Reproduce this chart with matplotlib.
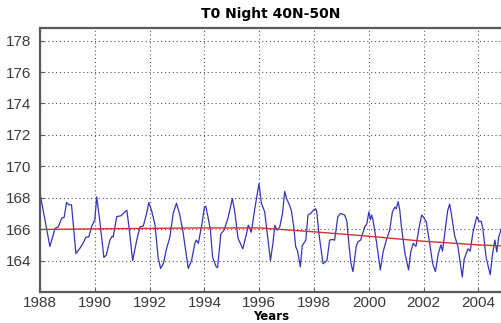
import matplotlib
matplotlib.use("Agg")
import matplotlib.pyplot as plt

# monthly-ish readings of the blue curve (year, value)
years = [1988.0, 1988.36, 1988.55, 1988.67, 1988.79, 1988.88, 1988.97, 1989.05, 1989.15, 1989.31,
         1989.45, 1989.57, 1989.68, 1989.78, 1989.88, 1990.0, 1990.07, 1990.19, 1990.33, 1990.42,
         1990.55, 1990.63, 1990.67, 1990.8, 1990.95, 1991.1, 1991.17, 1991.26, 1991.38, 1991.53,
         1991.65, 1991.77, 1991.89, 1991.97, 1992.07, 1992.2, 1992.31, 1992.4, 1992.5, 1992.62,
         1992.74, 1992.86, 1992.98, 1993.09, 1993.21, 1993.41, 1993.53, 1993.65, 1993.7, 1993.78,
         1993.9, 1994.0, 1994.05, 1994.14, 1994.22, 1994.3, 1994.43, 1994.48, 1994.6, 1994.72,
         1994.86, 1995.02, 1995.1, 1995.23, 1995.4, 1995.52, 1995.6, 1995.71, 1995.83, 1995.99,
         1996.08, 1996.2, 1996.28, 1996.41, 1996.5, 1996.57, 1996.65, 1996.75, 1996.85, 1996.93,
         1997.0, 1997.11, 1997.17, 1997.26, 1997.33, 1997.4, 1997.5, 1997.57, 1997.7, 1997.78,
         1997.88, 1997.97, 1998.06, 1998.1, 1998.18, 1998.33, 1998.47, 1998.57, 1998.66, 1998.75,
         1998.87, 1998.97, 1999.12, 1999.2, 1999.28, 1999.35, 1999.42, 1999.54, 1999.6, 1999.7,
         1999.85, 1999.93, 2000.0, 2000.06, 2000.1, 2000.15, 2000.27, 2000.42, 2000.52, 2000.64,
         2000.76, 2000.86, 2000.95, 2001.0, 2001.07, 2001.13, 2001.19, 2001.32, 2001.45, 2001.53,
         2001.62, 2001.72, 2001.85, 2001.93, 2002.02, 2002.1, 2002.22, 2002.33, 2002.43, 2002.53,
         2002.63, 2002.69, 2002.8, 2002.88, 2002.95, 2003.01, 2003.13, 2003.25, 2003.41, 2003.48,
         2003.62, 2003.7, 2003.8, 2003.94, 2004.02, 2004.1, 2004.16, 2004.28, 2004.43, 2004.51,
         2004.6, 2004.67, 2004.74, 2004.86]
values = [168.28, 164.9, 166.05, 166.15, 166.7, 166.75, 167.7, 167.55, 167.55, 164.45,
          164.77, 165.1, 165.5, 165.5, 166.15, 166.6, 168.06, 166.4, 164.2, 164.35,
          165.3, 165.55, 165.5, 166.8, 166.85, 167.1, 167.2, 165.95, 164.0, 165.3,
          166.15, 166.2, 167.0, 167.7, 167.2, 166.25, 164.2, 163.5, 163.8, 164.77,
          165.5, 167.0, 167.65, 167.0, 165.93, 163.5, 164.0, 165.1, 165.3, 165.1,
          166.25, 167.4, 167.45, 166.7, 165.93, 164.2, 163.6, 163.55, 165.7, 165.95,
          166.7, 167.95, 167.2, 165.4, 164.75, 165.6, 166.25, 165.8, 167.2, 168.9,
          167.65, 167.1, 165.93, 164.0, 165.1, 166.25, 165.93, 166.15, 167.0, 168.4,
          167.95, 167.5, 167.2, 166.15, 164.9, 164.6, 163.6, 164.95, 165.3, 166.9,
          167.0, 167.2, 167.3, 167.1, 165.7, 163.8, 164.0, 165.3, 165.35, 165.3,
          166.8, 167.0, 166.9, 166.5, 164.9, 163.8, 163.3, 164.9, 165.2, 165.3,
          166.15, 166.35, 167.1, 166.6, 166.9, 166.6, 165.3, 163.4, 164.55, 165.3,
          165.93, 167.1, 167.4, 167.3, 167.75, 167.2, 166.15, 164.45, 163.4, 164.55,
          165.1, 164.9, 166.25, 166.9, 166.7, 166.45, 165.1, 163.8, 163.3, 164.4,
          165.0, 164.6, 166.15, 167.2, 167.6, 167.0, 165.6, 164.9, 162.95, 164.1,
          164.75, 164.6, 165.8, 166.8, 166.5, 166.5, 166.05, 164.2, 163.1, 164.35,
          165.3, 164.55, 165.5, 166.15]

# red trend curve
trend_years = [1988, 1990, 1992, 1994, 1996, 1998, 2000, 2002, 2004, 2004.86]
trend_values = [165.98, 166.02, 166.05, 166.08, 166.08, 165.83, 165.55, 165.23, 165.0, 164.93]

xticks = [1988, 1990, 1992, 1994, 1996, 1998, 2000, 2002, 2004]
yticks = [164, 166, 168, 170, 172, 174, 176, 178]

fig = plt.figure(figsize=(5.02, 3.23), dpi=100)
ax = fig.add_axes([0.0797, 0.096, 0.9203, 0.817])

ax.plot(years, values, color='#3535bb', linewidth=0.9)
ax.plot(trend_years, trend_values, color='#d43030', linewidth=1.0)

ax.set_xlim(1988, 2004.86)
ax.set_ylim(162, 178.8)
ax.set_xticks(xticks)
ax.set_yticks(yticks)
ax.grid(True, linestyle=(0, (1, 2.5)), color='#555555', linewidth=0.8)
ax.tick_params(direction='in', length=3, colors='#555555', labelsize=11,
               labelcolor='#3a3a3a')
ax.tick_params(axis='y', pad=6)
ax.tick_params(axis='x', pad=3)
for lab in ax.get_xticklabels() + ax.get_yticklabels():
    lab.set_family('Liberation Sans')

for s in ['left', 'bottom', 'top']:
    ax.spines[s].set_color('#5a5a5a')
    ax.spines[s].set_linewidth(1.6)
ax.spines['right'].set_visible(False)

ax.set_title('T0 Night 40N-50N', fontsize=10, fontweight='bold', pad=7)
ax.set_xlabel('Years', fontsize=8.5, fontweight='bold', labelpad=0)

fig.savefig('out.png', dpi=100)
